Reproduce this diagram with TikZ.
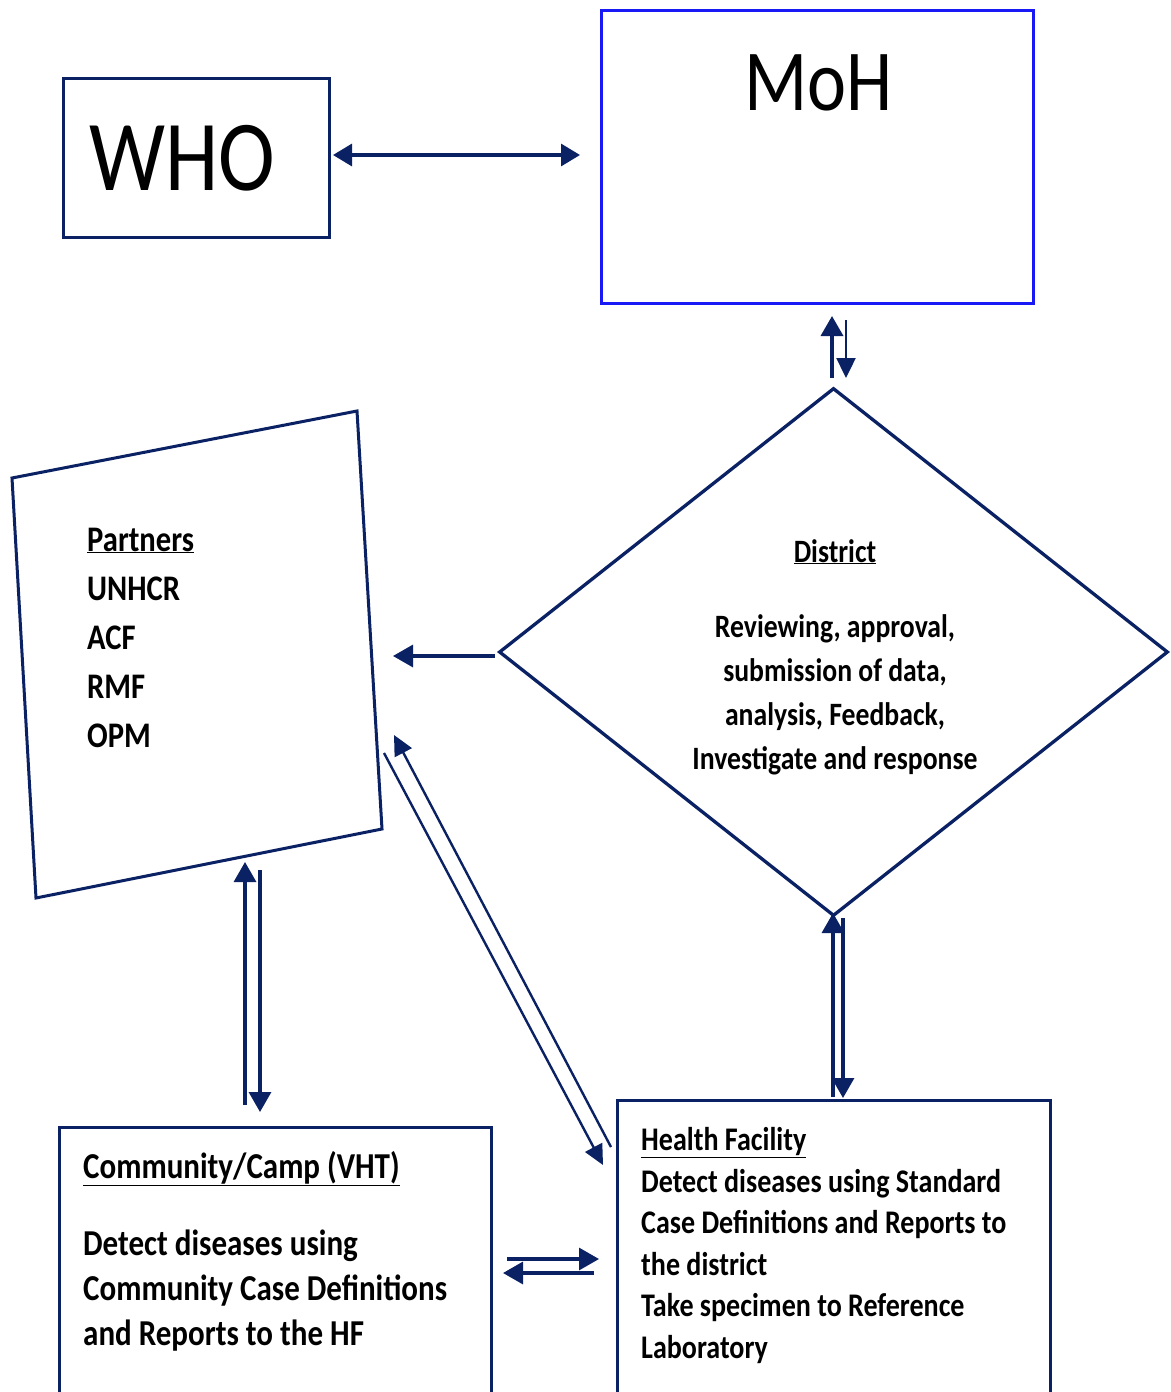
\documentclass[tikz,border=0pt]{standalone}
\usepackage{fontspec}
\usepackage{graphicx}
\setmainfont{Carlito}
\newfontfamily\cf[FakeStretch=0.85]{Carlito}
\usetikzlibrary{arrows.meta,shapes.geometric}
\definecolor{navy}{RGB}{10,34,100}
\definecolor{mohblue}{RGB}{25,25,245}
\begin{document}
\begin{tikzpicture}[x=1pt,y=-1pt,
  box/.style={draw=navy,line width=3pt,inner sep=0pt},
  arr/.style={draw=navy,line width=3.2pt,-{Triangle[length=20pt,width=22pt]}},
  darr/.style={draw=navy,line width=3.2pt,{Triangle[length=19pt,width=22pt]}-{Triangle[length=19pt,width=22pt]}},
  tarr/.style={draw=navy,line width=2.4pt,-{Triangle[length=20pt,width=19pt]}},
  txt/.style={text=black,inner sep=0pt}]
\useasboundingbox (0,0) rectangle (1170,1392);
\fill[white] (0,0) rectangle (1170,1392);

% boxes
\node[box,minimum width=266pt,minimum height=159pt,anchor=north west] (who) at (62,77) {};
\node[box,draw=mohblue,minimum width=432pt,minimum height=293pt,anchor=north west] (moh) at (600,9) {};
\node[box,diamond,line width=3.3pt,minimum width=669pt,minimum height=528pt] (district) at (833.5,652) {};
\coordinate (p1) at (12,478);
\coordinate (p2) at (357,411);
\coordinate (p3) at (382,829);
\coordinate (p4) at (36,898);
\draw[box,line join=miter] (p1) -- (p2) -- (p3) -- (p4) -- cycle;
\node[box,minimum width=432pt,minimum height=270pt,anchor=north west] (comm) at (58,1126) {};
\node[box,minimum width=433pt,minimum height=297pt,anchor=north west] (hf) at (616,1099) {};

% texts
\node[txt,anchor=base west,font=\cf\fontsize{100.5}{110}\selectfont] (whot) at (89,190) {WHO};
\node[txt,anchor=base west,font=\cf\fontsize{87}{95}\selectfont] (moht) at (744,110) {MoH};
\node[txt,anchor=base,align=center,font=\cf\bfseries\fontsize{32.6}{44}\selectfont] (distt) at (835,769)
  {\underline{District}\\[31pt] Reviewing, approval,\\ submission of data,\\ analysis, Feedback,\\ Investigate and response};
\node[txt,anchor=base west,align=left,font=\cf\bfseries\fontsize{36}{49}\selectfont] (partt) at (87,747)
  {\underline{Partners}\\ UNHCR\\ ACF\\ RMF\\ OPM};
\node[txt,anchor=base west,align=left,font=\cf\bfseries\fontsize{36.5}{45}\selectfont] (commt) at (83,1345)
  {\underline{Community/Camp (VHT)}\\[32pt] Detect diseases using\\ Community Case Definitions\\ and Reports to the HF};
\node[txt,anchor=base west,align=left,font=\cf\bfseries\fontsize{33}{41.5}\selectfont] (hft) at (641,1358)
  {\underline{Health Facility}\\ Detect diseases using Standard\\ Case Definitions and Reports to\\ the district\\ Take specimen to Reference\\ Laboratory};

% connector end points
\coordinate (a1) at (333,155); \coordinate (a2) at (580,155);
\coordinate (b1) at (832,378); \coordinate (b2) at (832,316);
\coordinate (c1) at (846,320); \coordinate (c2) at (846,378);
\coordinate (d1) at (495,656); \coordinate (d2) at (393,656);
\coordinate (e1) at (245,1105); \coordinate (e2) at (245,862);
\coordinate (f1) at (260,870); \coordinate (f2) at (260,1112);
\coordinate (g1) at (384,753); \coordinate (g2) at (603,1165);
\coordinate (h1) at (611,1147); \coordinate (h2) at (394,735);
\coordinate (i1) at (833,1097); \coordinate (i2) at (833,913);
\coordinate (j1) at (843,918); \coordinate (j2) at (843,1098);
\coordinate (k1) at (507,1259); \coordinate (k2) at (599,1259);
\coordinate (l1) at (594,1273); \coordinate (l2) at (503,1273);

\draw[darr] (a1) -- (a2);
\draw[arr,line width=3.6pt] (b1) -- (b2);
\draw[tarr] (c1) -- (c2);
\draw[arr] (d1) -- (d2);
\draw[arr] (e1) -- (e2);
\draw[arr] (f1) -- (f2);
\draw[tarr] (g1) -- (g2);
\draw[tarr] (h1) -- (h2);
\draw[arr] (i1) -- (i2);
\draw[arr] (j1) -- (j2);
\draw[arr] (k1) -- (k2);
\draw[arr] (l1) -- (l2);
\end{tikzpicture}
\end{document}
